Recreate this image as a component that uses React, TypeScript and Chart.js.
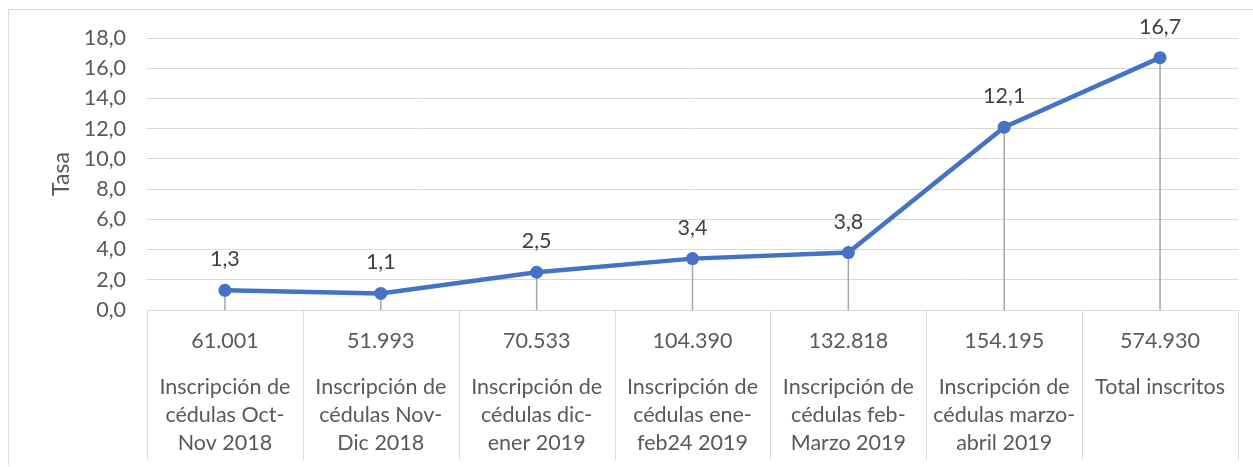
import React, { useEffect, useRef } from "react";
import { Chart, registerables } from "chart.js";

Chart.register(...registerables);

const categories: string[][] = [
  ["Inscripción de", "cédulas Oct-", "Nov 2018"],
  ["Inscripción de", "cédulas Nov-", "Dic 2018"],
  ["Inscripción de", "cédulas dic-", "ener 2019"],
  ["Inscripción de", "cédulas ene-", "feb24 2019"],
  ["Inscripción de", "cédulas feb-", "Marzo 2019"],
  ["Inscripción de", "cédulas marzo-", "abril 2019"],
  ["Total inscritos"],
];
const counts: string[] = ["61.001", "51.993", "70.533", "104.390", "132.818", "154.195", "574.930"];
const rates: number[] = [1.3, 1.1, 2.5, 3.4, 3.8, 12.1, 16.7];
const yTitle = "Tasa";

const W = 1253;
const H = 467;
const FONT = "Lato, 'Open Sans', sans-serif";
const FS = 21.5;
const fmt = (v: number) => v.toFixed(1).replace(".", ",");

const tablePlugin = {
  id: "tablePlugin",
  beforeDraw(chart: any) {
    const ctx = chart.ctx;
    ctx.save();
    ctx.strokeStyle = "#d9d9d9";
    ctx.lineWidth = 1;
    ctx.beginPath();
    ctx.moveTo(8.5, 465);
    ctx.lineTo(8.5, 9.5);
    ctx.lineTo(W, 9.5);
    ctx.stroke();
    ctx.restore();
  },
  beforeDatasetsDraw(chart: any) {
    const ctx = chart.ctx;
    const xs = chart.scales.x;
    const area = chart.chartArea;
    const meta = chart.getDatasetMeta(0);
    ctx.save();
    ctx.strokeStyle = "#d9d9d9";
    ctx.lineWidth = 1;
    const n = categories.length;
    for (let i = 0; i <= n; i++) {
      let x: number;
      if (i === 0) x = area.left;
      else if (i === n) x = area.right;
      else x = (xs.getPixelForValue(i - 1) + xs.getPixelForValue(i)) / 2;
      x = Math.round(x) + 0.5;
      ctx.beginPath();
      ctx.moveTo(x, area.bottom);
      ctx.lineTo(x, 460);
      ctx.stroke();
    }
    ctx.strokeStyle = "#a6a6a6";
    ctx.lineWidth = 1.5;
    meta.data.forEach((pt: any) => {
      ctx.beginPath();
      ctx.moveTo(pt.x, pt.y);
      ctx.lineTo(pt.x, area.bottom);
      ctx.stroke();
    });
    ctx.fillStyle = "#595959";
    ctx.font = `${FS}px ${FONT}`;
    ctx.textAlign = "center";
    ctx.textBaseline = "middle";
    categories.forEach((lines, i) => {
      const x = xs.getPixelForValue(i);
      ctx.fillText(counts[i], x, 341);
      lines.forEach((ln, j) => {
        ctx.fillText(ln, x, 387 + j * 28);
      });
    });
    ctx.restore();
  },
  afterDatasetsDraw(chart: any) {
    const ctx = chart.ctx;
    const meta = chart.getDatasetMeta(0);
    ctx.save();
    ctx.fillStyle = "#404040";
    ctx.font = `${FS}px ${FONT}`;
    ctx.textAlign = "center";
    ctx.textBaseline = "middle";
    meta.data.forEach((pt: any, i: number) => {
      ctx.fillText(fmt(rates[i]), pt.x, pt.y - 31);
    });
    ctx.restore();
  },
};

export default function App() {
  const ref = useRef<HTMLCanvasElement>(null);
  useEffect(() => {
    document.body.style.margin = "0";
    const canvas = ref.current!;
    const chart = new Chart(canvas, {
      type: "line",
      data: {
        labels: categories.map((c) => c.join(" ")),
        datasets: [
          {
            data: rates,
            borderColor: "#4472C4",
            backgroundColor: "#4472C4",
            borderWidth: 4.5,
            pointRadius: 6.5,
            pointBackgroundColor: "#4472C4",
            pointBorderColor: "#4472C4",
            pointBorderWidth: 0,
            tension: 0,
          },
        ],
      },
      options: {
        responsive: false,
        animation: false,
        devicePixelRatio: 1,
        layout: { padding: { top: 38, right: 15, left: 0, bottom: 0 } },
        plugins: {
          legend: { display: false },
          tooltip: { enabled: false },
          title: { display: false },
        },
        scales: {
          x: {
            type: "category",
            offset: true,
            grid: { display: false },
            border: { display: false },
            ticks: { display: false },
            afterFit: (s: any) => {
              s.height = H - 310;
            },
          },
          y: {
            min: 0,
            max: 18,
            ticks: {
              stepSize: 2,
              callback: (v: any) => fmt(Number(v)),
              color: "#595959",
              font: { family: FONT, size: FS },
              padding: 21,
            },
            grid: { color: "#d9d9d9", lineWidth: 1, drawTicks: false },
            border: { display: false },
            title: {
              display: true,
              text: yTitle,
              color: "#595959",
              font: { family: FONT, size: 23 },
              padding: { top: 48, bottom: 0 },
            },
            afterFit: (s: any) => {
              s.width = 147;
            },
          },
        },
      },
      plugins: [tablePlugin],
    } as any);
    return () => chart.destroy();
  }, []);
  return (
    <div style={{ position: "fixed", left: 0, top: 0, width: W, height: H, background: "#fff" }}>
      <canvas ref={ref} width={W} height={H} style={{ display: "block", width: W, height: H }} />
    </div>
  );
}
